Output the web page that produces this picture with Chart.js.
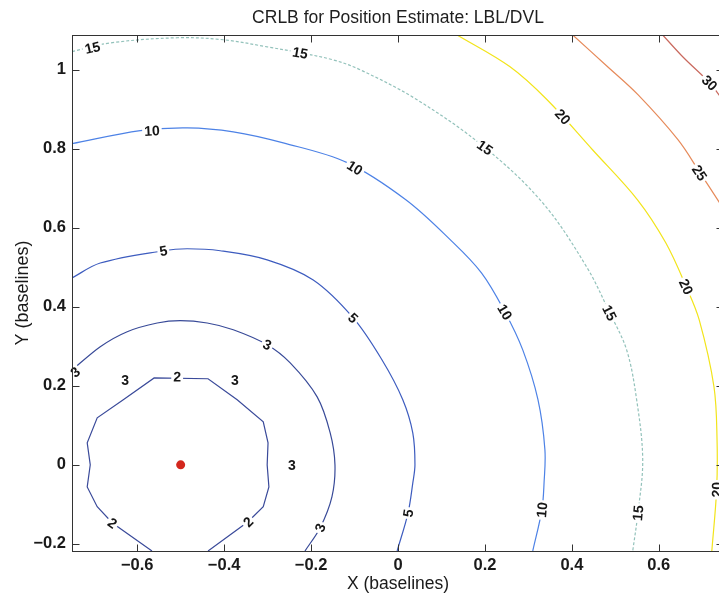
<!DOCTYPE html>
<html><head><meta charset="utf-8">
<script src="https://cdn.jsdelivr.net/npm/chart.js@4.4.0/dist/chart.umd.min.js"></script>
<style>html,body{margin:0;padding:0;overflow:hidden;background:#fff}#wrap{width:760px;height:595px}</style>
</head><body><div id="wrap"><canvas id="c" width="760" height="595"></canvas></div>
<script>
// ---- data ----
const levels = [2, 3, 5, 10, 15, 20, 25, 30];

const c2x = [-0.566,-0.657,-0.692,-0.715,-0.708,-0.715,-0.692,-0.632,-0.561,-0.437,-0.370,-0.310,-0.299,-0.301,-0.297,-0.310,-0.345,-0.437];
const c2y = [-0.218,-0.147,-0.106,-0.056,0.000,0.056,0.119,0.165,0.220,0.218,0.165,0.109,0.056,0.000,-0.056,-0.106,-0.144,-0.218];

const c3x = [-0.750,-0.685,-0.623,-0.554,-0.501,-0.439,-0.379,-0.301,-0.248,-0.186,-0.156,-0.145,-0.152,-0.179,-0.214];
const c3y = [0.240,0.299,0.337,0.359,0.365,0.359,0.342,0.304,0.258,0.172,0.081,0.000,-0.081,-0.159,-0.218];

const c5x = [-0.750,-0.685,-0.540,-0.485,-0.409,-0.301,-0.195,-0.103,-0.037,0.011,0.034,0.039,0.034,0.023,-0.002];
const c5y = [0.473,0.511,0.542,0.547,0.542,0.519,0.468,0.372,0.266,0.165,0.081,0.000,-0.046,-0.122,-0.218];

const c10x = [-0.750,-0.593,-0.485,-0.379,-0.264,-0.117,0.018,0.120,0.192,0.246,0.287,0.322,0.338,0.336,0.331,0.310];
const c10y = [0.813,0.846,0.853,0.843,0.815,0.765,0.671,0.570,0.486,0.387,0.291,0.165,0.038,-0.046,-0.114,-0.218];

const c15x = [-0.750,-0.662,-0.508,-0.402,-0.301,-0.225,-0.149,-0.087,0.044,0.200,0.333,0.434,0.487,0.526,0.549,0.563,0.552,0.540];
const c15y = [1.046,1.068,1.081,1.076,1.058,1.043,1.025,1.000,0.924,0.803,0.663,0.501,0.385,0.291,0.165,0.013,-0.122,-0.218];

const c20x = [0.136,0.257,0.343,0.448,0.551,0.616,0.663,0.693,0.727,0.734,0.733,0.722];
const c20y = [1.088,1.008,0.924,0.797,0.671,0.562,0.451,0.367,0.197,0.063,-0.063,-0.218];

const c25x = [0.402,0.481,0.552,0.644,0.695,0.740,0.750];
const c25y = [1.088,1.009,0.937,0.823,0.739,0.663,0.645];

const c30x = [0.609,0.655,0.717,0.738,0.750];
const c30y = [1.088,1.033,0.967,0.937,0.920];

const beaconX = [-0.50];
const beaconY = [0.0];

const labelLevel = [15,15,15,15,15, 10,10,10,10, 5,5,5, 3,3,3,3,3,3, 2,2,2, 20,20,20, 25, 30];
const labelX = [-0.703,-0.225,0.200,0.487,0.552, -0.566,-0.099,0.246,0.331, -0.540,-0.103,0.023, -0.743,-0.301,-0.628,-0.375,-0.244,-0.179, -0.508,-0.657,-0.345, 0.379,0.663,0.733, 0.694, 0.717];
const labelY = [1.056,1.043,0.803,0.385,-0.122, 0.846,0.752,0.387,-0.114, 0.542,0.372,-0.122, 0.235,0.304,0.215,0.215,0.000,-0.159, 0.223,-0.147,-0.144, 0.881,0.451,-0.063, 0.739, 0.967];

const xTicks = [-0.6,-0.4,-0.2,0,0.2,0.4,0.6];
const yTicks = [-0.2,0,0.2,0.4,0.6,0.8,1];

// ---- styling ----
const contourX = [c2x,c3x,c5x,c10x,c15x,c20x,c25x,c30x];
const contourY = [c2y,c3y,c5y,c10y,c15y,c20y,c25y,c30y];
const contourColor = ['#3a4a9a','#384a98','#3d5cbf','#4d82e6','#93c2bb','#f2e41a','#e68a5a','#c9695e'];
const contourDash = [[],[],[],[],[3,2],[],[],[]];
const contourTension = [0,0.3,0.35,0.35,0.35,0.35,0.35,0.35];

function pts(xs, ys){ return xs.map((x,i)=>({x:x, y:ys[i]})); }

const datasets = levels.map((lv,i)=>({
  label: 'CRLB ' + lv,
  data: pts(contourX[i], contourY[i]),
  showLine: true,
  borderColor: contourColor[i],
  borderWidth: 1.2,
  borderDash: contourDash[i],
  pointRadius: 0,
  tension: contourTension[i],
  fill: false
}));
datasets.push({
  label: 'Beacon',
  data: pts(beaconX, beaconY),
  showLine: false,
  pointRadius: 4.5,
  pointBackgroundColor: '#d3271d',
  pointBorderWidth: 0,
  borderColor: '#d3271d'
});

function fmt(v){
  if (v === 0) return '0';
  return (v < 0 ? '\u2212' : '') + String(Math.abs(v));
}

const FONT = "'Liberation Sans', Arial, sans-serif";

const labelPlugin = {
  id: 'contourLabels',
  afterDatasetsDraw(chart){
    const ctx = chart.ctx, xs = chart.scales.x, ys = chart.scales.y;
    ctx.save();
    ctx.font = 'bold 14px ' + FONT;
    ctx.textAlign = 'center';
    ctx.textBaseline = 'middle';
    labelLevel.forEach((lv, k) => {
      const px = xs.getPixelForValue(labelX[k]);
      const py = ys.getPixelForValue(labelY[k]);
      const ci = levels.indexOf(lv);
      let best = 1e9, ang = 0;
      const cx = contourX[ci], cy = contourY[ci];
      for (let j = 0; j < cx.length - 1; j++){
        const ax = xs.getPixelForValue(cx[j]), ay = ys.getPixelForValue(cy[j]);
        const bx = xs.getPixelForValue(cx[j+1]), by = ys.getPixelForValue(cy[j+1]);
        const dx = bx-ax, dy = by-ay, L2 = dx*dx+dy*dy;
        let t = L2 ? ((px-ax)*dx+(py-ay)*dy)/L2 : 0;
        t = Math.max(0, Math.min(1, t));
        const qx = ax+t*dx, qy = ay+t*dy;
        const d = Math.hypot(px-qx, py-qy);
        if (d < best){ best = d; ang = Math.atan2(dy, dx); }
      }
      if (best > 10) ang = 0;
      if (ang > Math.PI/2) ang -= Math.PI;
      if (ang < -Math.PI/2) ang += Math.PI;
      const txt = String(lv);
      const w = ctx.measureText(txt).width;
      ctx.save();
      ctx.translate(px, py);
      ctx.rotate(ang);
      ctx.fillStyle = '#ffffff';
      ctx.fillRect(-w/2-2, -6, w+4, 12);
      ctx.fillStyle = '#161616';
      ctx.fillText(txt, 0, 1);
      ctx.restore();
    });
    ctx.restore();
  }
};

const framePlugin = {
  id: 'frame',
  afterDraw(chart){
    const ctx = chart.ctx, a = chart.chartArea, xs = chart.scales.x, ys = chart.scales.y;
    ctx.save();
    ctx.strokeStyle = '#333333';
    ctx.lineWidth = 1;
    const L = Math.round(a.left)+0.5, R = Math.round(a.right)-0.5, T = Math.round(a.top)+0.5, B = Math.round(a.bottom)+0.5;
    ctx.strokeRect(L, T, R-L, B-T);
    ctx.beginPath();
    xTicks.forEach(v => {
      const p = Math.round(xs.getPixelForValue(v))+0.5;
      ctx.moveTo(p, B); ctx.lineTo(p, B-7);
      ctx.moveTo(p, T); ctx.lineTo(p, T+7);
    });
    yTicks.forEach(v => {
      const p = Math.round(ys.getPixelForValue(v))+0.5;
      ctx.moveTo(L, p); ctx.lineTo(L+7, p);
      ctx.moveTo(R, p); ctx.lineTo(R-7, p);
    });
    ctx.stroke();
    ctx.restore();
  }
};

new Chart(document.getElementById('c'), {
  type: 'scatter',
  data: { datasets: datasets },
  options: {
    responsive: false,
    animation: false,
    devicePixelRatio: 1,
    layout: { padding: { left: 0, right: 36, top: 0, bottom: 0 } },
    plugins: {
      legend: { display: false },
      tooltip: { enabled: false },
      title: {
        display: true,
        text: 'CRLB for Position Estimate: LBL/DVL',
        fullSize: false,
        color: '#1e1e1e',
        font: { family: FONT, size: 17.5, weight: 'normal' },
        padding: { top: 8, bottom: 6 }
      }
    },
    scales: {
      x: {
        type: 'linear',
        min: -0.75, max: 0.75,
        afterBuildTicks: s => { s.ticks = xTicks.map(v => ({ value: v })); },
        afterFit: s => { s.height = 44; },
        grid: { display: false, drawTicks: false },
        border: { display: false },
        ticks: { padding: 5, color: '#1a1a1a', font: { family: FONT, size: 16.5, weight: 'bold' }, callback: v => fmt(v), maxRotation: 0 },
        title: { display: true, text: 'X (baselines)', color: '#1a1a1a', font: { family: FONT, size: 17.5, weight: 'normal' }, padding: { top: 0, bottom: 0 } }
      },
      y: {
        type: 'linear',
        min: -0.218, max: 1.088,
        afterBuildTicks: s => { s.ticks = yTicks.map(v => ({ value: v })); },
        afterFit: s => { s.width = 72; },
        grid: { display: false, drawTicks: false },
        border: { display: false },
        ticks: { padding: 6, color: '#1a1a1a', font: { family: FONT, size: 16.5, weight: 'bold' }, callback: v => fmt(v) },
        title: { display: true, text: 'Y (baselines)', color: '#1a1a1a', font: { family: FONT, size: 18, weight: 'normal' }, padding: { top: 12, bottom: 0 } }
      }
    }
  },
  plugins: [labelPlugin, framePlugin]
});
</script></body></html>
